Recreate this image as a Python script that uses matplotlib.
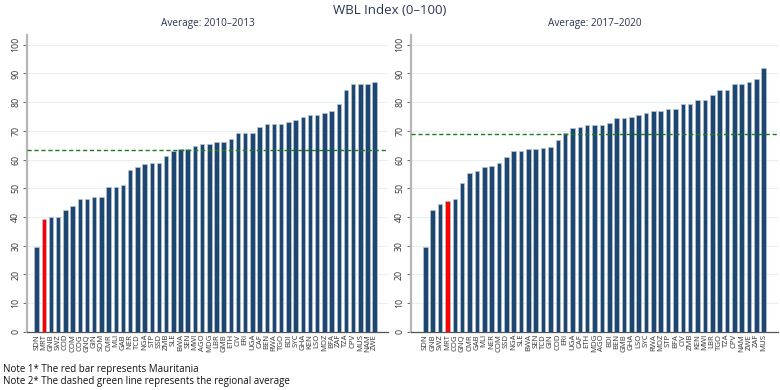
import numpy as np
import matplotlib
matplotlib.use('Agg')
import matplotlib.pyplot as plt

plt.rcParams['font.family'] = ['Open Sans', 'DejaVu Sans']

# Average 2010-2013
codes_1 = ['SDN', 'MRT', 'GNB', 'SWZ', 'COD', 'COM', 'COG', 'GNQ', 'GIN', 'SOM',
           'CMR', 'MLI', 'GAB', 'NER', 'TCD', 'NGA', 'STP', 'SSD', 'ZMB', 'SLE',
           'BWA', 'SEN', 'MWI', 'AGO', 'MDG', 'LBR', 'GMB', 'ETH', 'CIV', 'ERI',
           'UGA', 'CAF', 'BEN', 'RWA', 'TGO', 'BDI', 'SYC', 'GHA', 'KEN', 'LSO',
           'MOZ', 'BFA', 'ZAF', 'TZA', 'CPV', 'MUS', 'NAM', 'ZWE']
vals_1 = [29.4, 39.4, 40.0, 40.0, 42.5, 43.8, 46.3, 46.3, 46.9, 46.9,
          50.6, 50.6, 51.3, 56.3, 57.5, 58.4, 58.8, 58.8, 61.3, 63.1,
          63.8, 63.8, 64.7, 65.6, 65.6, 66.3, 66.3, 67.2, 69.4, 69.4,
          69.4, 71.3, 72.5, 72.5, 72.5, 73.1, 73.8, 75.0, 75.6, 75.6,
          76.3, 76.9, 79.4, 84.4, 86.3, 86.3, 86.3, 86.9]
avg_1 = 63.2

# Average 2017-2020
codes_2 = ['SDN', 'GNB', 'SWZ', 'MRT', 'COG', 'GNQ', 'CMR', 'GAB', 'MLI', 'NER',
           'COM', 'SSD', 'NGA', 'SLE', 'BWA', 'SEN', 'TCD', 'GIN', 'COD', 'ERI',
           'UGA', 'CAF', 'ETH', 'MDG', 'AGO', 'BDI', 'BEN', 'GMB', 'GHA', 'LSO',
           'SYC', 'RWA', 'MOZ', 'STP', 'BFA', 'CIV', 'ZMB', 'KEN', 'MWI', 'LBR',
           'TGO', 'TZA', 'CPV', 'NAM', 'ZWE', 'ZAF', 'MUS']
vals_2 = [29.4, 42.5, 44.4, 45.6, 46.3, 51.9, 55.3, 55.9, 57.5, 57.8,
          58.8, 60.9, 63.1, 63.1, 63.8, 63.8, 64.1, 64.4, 66.9, 69.4,
          70.9, 71.3, 71.9, 71.9, 72.2, 72.8, 74.4, 74.4, 75.0, 75.6,
          76.3, 76.9, 76.9, 77.5, 77.5, 79.4, 79.4, 80.6, 80.6, 82.5,
          84.4, 84.4, 86.3, 86.3, 86.9, 88.1, 91.9]
avg_2 = 68.8

highlight = 'MRT'
navy = '#1d4770'
title_col = '#2b3556'

fig = plt.figure(figsize=(7.8, 3.9), dpi=100)
ax1 = fig.add_axes([0.035, 0.149, 0.462, 0.762])
ax2 = fig.add_axes([0.527, 0.149, 0.471, 0.762])

panels = [(ax1, codes_1, vals_1, avg_1, 'Average: 2010\u20132013', (-1.3, 48.8)),
          (ax2, codes_2, vals_2, avg_2, 'Average: 2017\u20132020', (-1.95, 48.0))]

for ax, codes, vals, avg, title, xl in panels:
    x = np.arange(len(codes))
    colors = ['#ff0000' if c == highlight else navy for c in codes]
    ax.bar(x, vals, width=0.62, color=colors, edgecolor='#b8c4d4', linewidth=0.5, zorder=3)
    ax.axhline(avg, color='#1b7a1b', linestyle=(0, (3, 2)), linewidth=1.0, zorder=4)
    ax.set_xlim(*xl)
    ax.set_ylim(0, 103.5)
    ax.set_xticks(x)
    ax.set_xticklabels(codes, rotation=90, fontsize=5.6, color='#333333')
    ax.tick_params(axis='x', length=0, pad=1.5)
    ax.set_yticks(range(0, 101, 10))
    ax.set_yticklabels([str(v) for v in range(0, 101, 10)], rotation=90, va='center',
                       fontsize=6.3, color='#333333')
    ax.tick_params(axis='y', length=3, width=0.6, color='#555555', pad=2)
    ax.grid(axis='y', color='#e9eef0', linewidth=0.8, zorder=0)
    ax.set_axisbelow(True)
    for s in ['top', 'right']:
        ax.spines[s].set_visible(False)
    ax.spines['left'].set_color('#b5b5b5')
    ax.spines['left'].set_linewidth(1.6)
    ax.spines['bottom'].set_color('#555555')
    ax.spines['bottom'].set_linewidth(0.9)
    ax.set_title(title, fontsize=7.2, color=title_col, pad=6)

fig.text(0.5, 0.972, 'WBL Index (0\u2013100)', ha='center', va='center', fontsize=9.5, color=title_col)
fig.text(0.004, 0.052, 'Note 1* The red bar represents Mauritania', fontsize=7, color='#111111', va='center')
fig.text(0.004, 0.022, 'Note 2* The dashed green line represents the regional average', fontsize=7,
         color='#111111', va='center')

fig.savefig('out.png', dpi=100)
